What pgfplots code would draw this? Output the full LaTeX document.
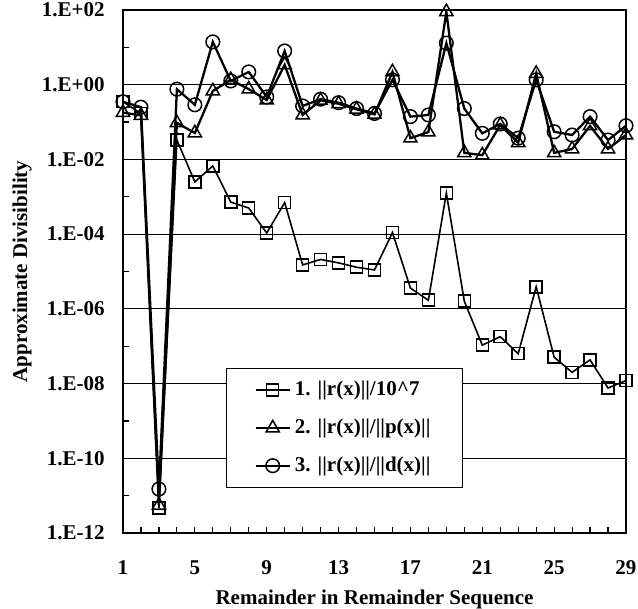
\documentclass[border=0pt]{standalone}
\usepackage{fontspec}
\setmainfont{Liberation Serif}
\usepackage{pgfplots}
\pgfplotsset{compat=1.18}
\pgfplotstableread{
x y
1 0.35
2 0.17
3 4.7e-12
4 0.033
5 0.0025
6 0.0067
7 7.2e-4
8 5e-4
9 1.07e-4
10 7e-4
11 1.5e-5
12 2.1e-5
13 1.7e-5
14 1.3e-5
15 1.1e-5
16 1.1e-4
17 3.6e-6
18 1.7e-6
19 1.26e-3
20 1.6e-6
21 1.07e-7
22 1.8e-7
23 6.3e-8
24 3.9e-6
25 5.1e-8
26 2e-8
27 4.3e-8
28 7.6e-9
29 1.2e-8
}\sone
\pgfplotstableread{
x y
1 0.18
2 0.15
3 5.5e-12
4 0.095
5 0.051
6 0.68
7 1.35
8 0.76
9 0.39
10 3.4
11 0.155
12 0.38
13 0.31
14 0.22
15 0.16
16 2.2
17 0.037
18 0.054
19 90
20 0.015
21 0.013
22 0.083
23 0.028
24 2.0
25 0.015
26 0.019
27 0.079
28 0.019
29 0.045
}\stwo
\pgfplotstableread{
x y
1 0.35
2 0.25
3 1.5e-11
4 0.76
5 0.29
6 14
7 1.26
8 2.2
9 0.47
10 8
11 0.27
12 0.41
13 0.33
14 0.23
15 0.17
16 1.35
17 0.14
18 0.155
19 13
20 0.23
21 0.05
22 0.089
23 0.037
24 1.35
25 0.055
26 0.045
27 0.14
28 0.033
29 0.08
}\sthree
\begin{document}
\fontsize{10.5}{12.6}\selectfont
\begin{tikzpicture}
\begin{semilogyaxis}[
 scale only axis, width=251.5pt, height=261.5pt,
 xmin=1, xmax=29, ymin=1e-12, ymax=1e2,
 xtick={1,5,9,13,17,21,25,29}, xticklabels={1,5,9,13,17,21,25,29},
 minor xtick={1,...,29},
 ytick={1e-12,1e-10,1e-8,1e-6,1e-4,1e-2,1,1e2},
 yticklabels={1.E-12,1.E-10,1.E-08,1.E-06,1.E-04,1.E-02,1.E+00,1.E+02},
 minor ytick={1e-11,1e-9,1e-7,1e-5,1e-3,1e-1,1e1},
 tick align=inside, xtick pos=left, ytick pos=left,
 major tick length=3pt, minor tick length=3pt,
 ymajorgrids, major grid style={black, line width=0.5pt},
 axis line style={line width=1pt},
 every tick/.style={black, line width=0.6pt},
 tick label style={font=\bfseries},
 xticklabel style={yshift=-10pt},
 yticklabel style={xshift=-5.5pt},
 xlabel={Remainder in Remainder Sequence},
 ylabel={Approximate Divisibility},
 label style={font=\bfseries},
 xlabel style={at={(rel axis cs:0.5,-0.128)}, anchor=center},
 ylabel style={at={(rel axis cs:-0.2008,0.5)}, anchor=center},
 legend style={at={(rel axis cs:0.205,0.3155)}, anchor=north west, draw=black,
   font=\bfseries, inner xsep=14pt, inner ysep=4.5pt, row sep=6pt},
 legend cell align=left,
]
\addplot[black, line width=0.8pt, mark=square, mark size=3pt, mark options={solid, fill=white, line width=0.75pt}] table[x=x,y=y]{\sone};
\addlegendentry{1. ||r(x)||/10\^{}7}
\addplot[black, line width=1.15pt, mark=triangle, mark size=3.8pt, mark options={solid, fill=white, line width=0.75pt}] table[x=x,y=y]{\stwo};
\addlegendentry{2. ||r(x)||/||p(x)||}
\addplot[black, line width=1.15pt, mark=o, mark size=3.4pt, mark options={solid, fill=white, line width=0.75pt}] table[x=x,y=y]{\sthree};
\addlegendentry{3. ||r(x)||/||d(x)||}
\coordinate (sw) at (rel axis cs:0,0);
\coordinate (ne) at (rel axis cs:1,1);
\end{semilogyaxis}
\pgfresetboundingbox
\path ([shift={(-61.5pt,-38pt)}]sw) rectangle ([shift={(6pt,5pt)}]ne);
\end{tikzpicture}
\end{document}
